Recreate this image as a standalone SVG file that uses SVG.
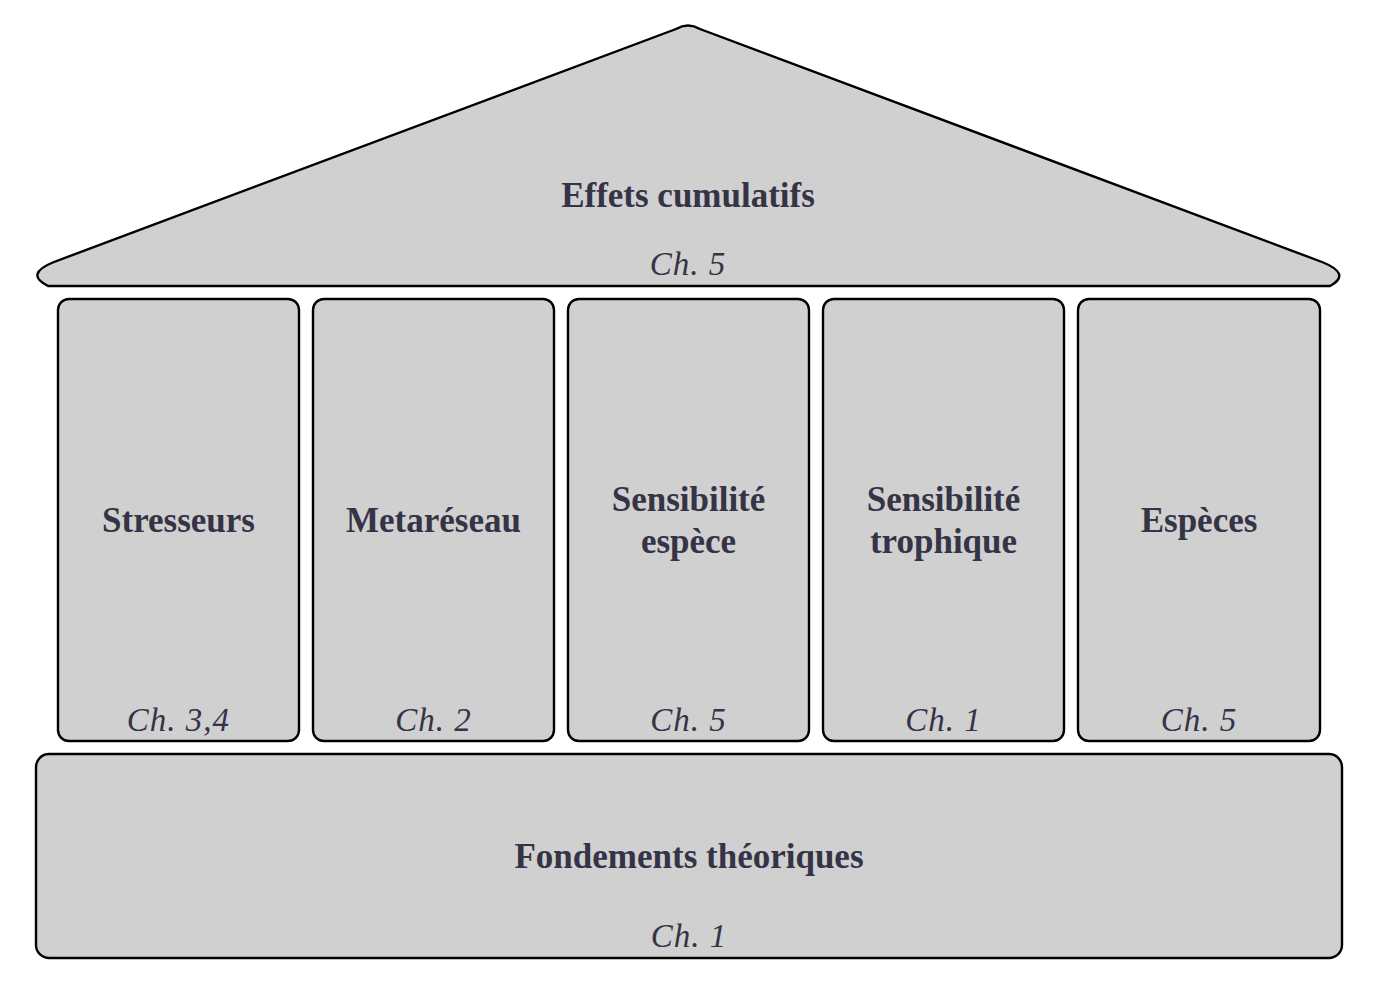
<svg xmlns="http://www.w3.org/2000/svg" width="1377" height="984" viewBox="0 0 1377 984">
<style>
.box{fill:#d0d0d0;stroke:#000;stroke-width:2.4}
.t{font-family:"Liberation Serif","Times New Roman",serif;font-weight:bold;font-size:35px;fill:#353447;text-anchor:middle}
.c{font-family:"Liberation Serif","Times New Roman",serif;font-style:italic;font-size:33px;fill:#353447;text-anchor:middle;letter-spacing:1px}
</style>
<rect width="1377" height="984" fill="#fff"/>
<g id="roof">
<path class="box" d="M 676 29 Q 688 22 700 29 L 1322 262 Q 1352 274 1330 286 L 48 286 Q 24 274 54 262 Z"/>
<text class="t" x="688" y="207">Effets cumulatifs</text>
<text class="c" x="688" y="275">Ch. 5</text>
</g>
<g id="stresseurs">
<rect class="box" x="58" y="299" width="241" height="442" rx="11"/>
<text class="t" x="178.5" y="532">Stresseurs</text>
<text class="c" x="178.5" y="731">Ch. 3,4</text>
</g>
<g id="metareseau">
<rect class="box" x="313" y="299" width="241" height="442" rx="11"/>
<text class="t" x="433.5" y="532">Metaréseau</text>
<text class="c" x="433.5" y="731">Ch. 2</text>
</g>
<g id="sens-espece">
<rect class="box" x="568" y="299" width="241" height="442" rx="11"/>
<text class="t" x="688.5" y="511">Sensibilité</text>
<text class="t" x="688.5" y="553">espèce</text>
<text class="c" x="688.5" y="731">Ch. 5</text>
</g>
<g id="sens-trophique">
<rect class="box" x="823" y="299" width="241" height="442" rx="11"/>
<text class="t" x="943.5" y="511">Sensibilité</text>
<text class="t" x="943.5" y="553">trophique</text>
<text class="c" x="943.5" y="731">Ch. 1</text>
</g>
<g id="especes">
<rect class="box" x="1078" y="299" width="242" height="442" rx="11"/>
<text class="t" x="1199" y="532">Espèces</text>
<text class="c" x="1199" y="731">Ch. 5</text>
</g>
<g id="fondements">
<rect class="box" x="36" y="754" width="1306" height="204" rx="13"/>
<text class="t" x="689" y="868">Fondements théoriques</text>
<text class="c" x="689" y="947">Ch. 1</text>
</g>
<g id="connectors"></g>
</svg>
